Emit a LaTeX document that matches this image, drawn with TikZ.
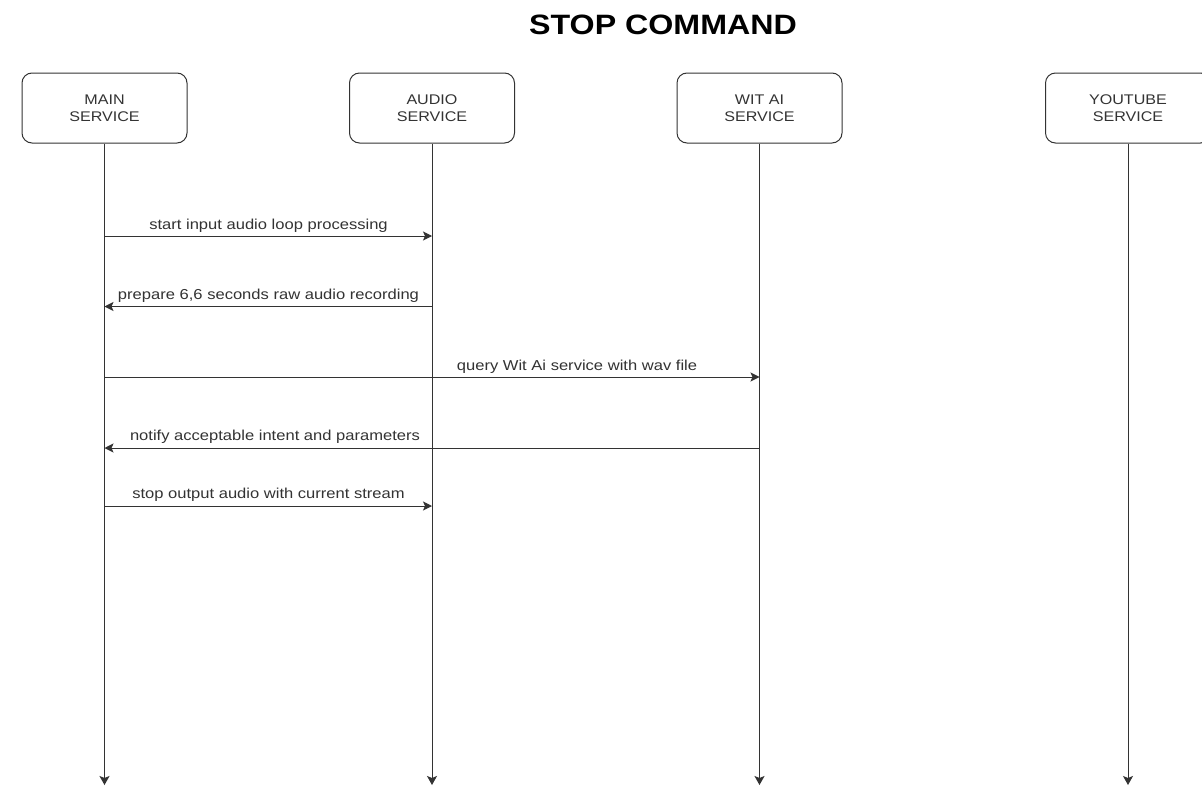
\documentclass[tikz,border=0pt]{standalone}
\usepackage{fontspec}
\setmainfont{Liberation Sans}[FakeStretch=1.15]
\usetikzlibrary{arrows.meta}
\definecolor{linec}{HTML}{333333}
\definecolor{textc}{HTML}{333333}
\begin{document}
\begin{tikzpicture}[x=1pt,y=-1pt,
  svc/.style={draw=linec, line width=1pt, rounded corners=10pt, minimum width=165pt, minimum height=70pt, align=center, inner sep=0pt, font=\fontsize{14}{17}\selectfont, text=textc},
  life/.style={draw=linec, line width=1pt, -{Stealth[length=9pt,width=10pt,inset=2pt]}},
  msg/.style={draw=linec, line width=1pt, -{Stealth[length=9pt,width=9pt,inset=2pt]}},
  lbl/.style={font=\fontsize{14.4}{16}\selectfont, text=textc, inner sep=0pt}]
\useasboundingbox[fill=white] (0,0) rectangle (1202,787);
\node[font=\fontsize{28}{30}\selectfont\bfseries] (title) at (663,25) {STOP COMMAND};
\node[svc] (main) at (104.5,108) {MAIN\\SERVICE};
\node[svc] (audio) at (432,108) {AUDIO\\SERVICE};
\node[svc] (wit) at (759.5,108) {WIT AI\\SERVICE};
\node[svc] (yt) at (1128,108) {YOUTUBE\\SERVICE};
\coordinate (mainEnd) at (main.south |- 0,785);
\coordinate (audioEnd) at (audio.south |- 0,785);
\coordinate (witEnd) at (wit.south |- 0,785);
\coordinate (ytEnd) at (yt.south |- 0,785);
\draw[life] (main.south) -- (mainEnd);
\draw[life] (audio.south) -- (audioEnd);
\draw[life] (wit.south) -- (witEnd);
\draw[life] (yt.south) -- (ytEnd);
% message anchor points on lifelines
\coordinate (m1s) at (main.south |- 0,236);
\coordinate (m1e) at (audio.south |- 0,236);
\coordinate (m2s) at (audio.south |- 0,306.5);
\coordinate (m2e) at (main.south |- 0,306.5);
\coordinate (m3s) at (main.south |- 0,377);
\coordinate (m3e) at (wit.south |- 0,377);
\coordinate (m4s) at (wit.south |- 0,448);
\coordinate (m4e) at (main.south |- 0,448);
\coordinate (m5s) at (main.south |- 0,506);
\coordinate (m5e) at (audio.south |- 0,506);
\draw[msg] (m1s) -- (m1e);
\draw[msg] (m2s) -- (m2e);
\draw[msg] (m3s) -- (m3e);
\draw[msg] (m4s) -- (m4e);
\draw[msg] (m5s) -- (m5e);
\node[lbl] (l1) at (268.5,226) {start input audio loop processing};
\node[lbl] (l2) at (268.5,296) {prepare 6,6 seconds raw audio recording};
\node[lbl] (l3) at (577,367) {query Wit Ai service with wav file};
\node[lbl] (l4) at (275,437) {notify acceptable intent and parameters};
\node[lbl] (l5) at (268.5,495) {stop output audio with current stream};
\end{tikzpicture}
\end{document}
